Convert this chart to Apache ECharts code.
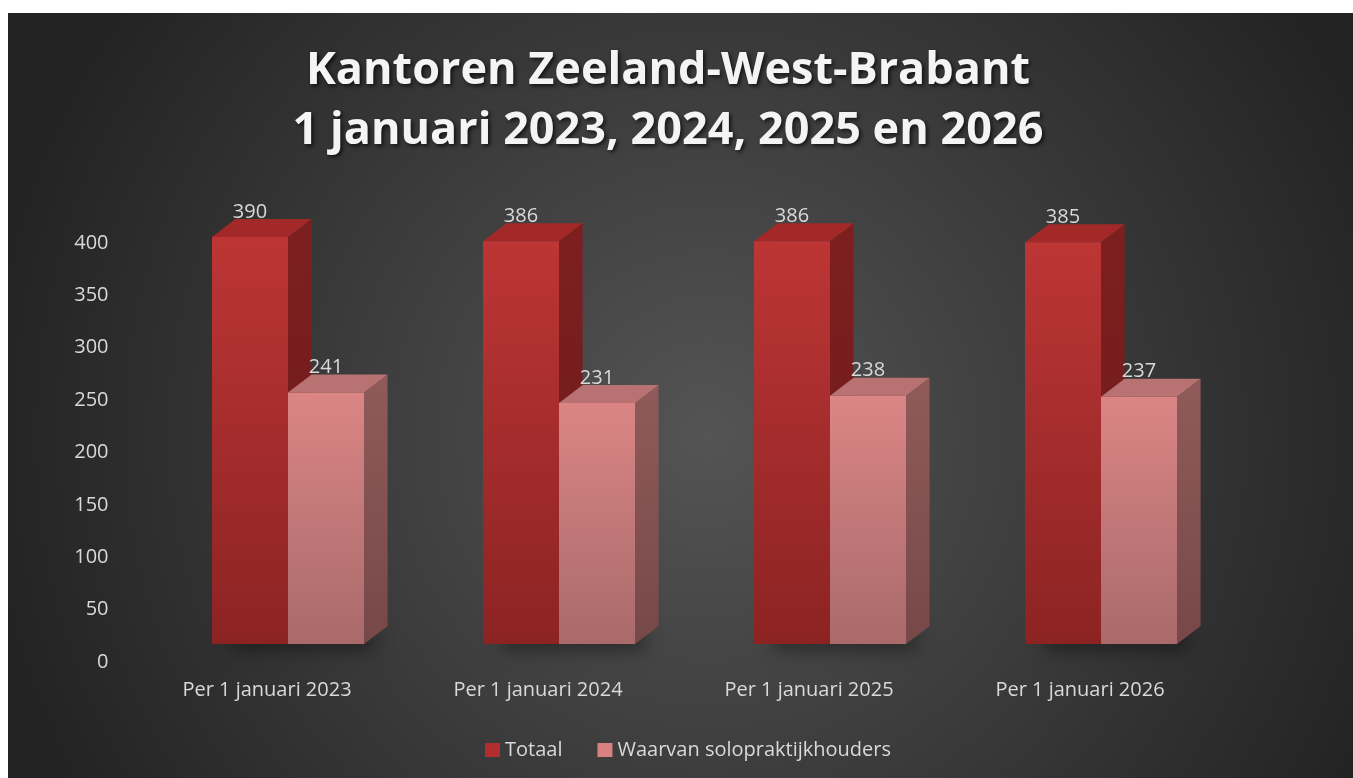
<!DOCTYPE html>
<html>
<head>
    <meta charset="utf-8">
    <title>Kantoren Zeeland-West-Brabant</title>
    <script src="https://cdn.jsdelivr.net/npm/echarts@6/dist/echarts.min.js"></script>
    <style>
        html, body { margin: 0; padding: 0; background: #ffffff; }
    </style>
</head>
<body>
    <div id="main" style="position:absolute;left:8px;top:13px;width:1345px;height:765px;"></div>
    <script type="text/javascript">
        // gegevens
        var categories = ['Per 1 januari 2023', 'Per 1 januari 2024', 'Per 1 januari 2025', 'Per 1 januari 2026'];
        var totaal = [390, 386, 386, 385];
        var solo = [241, 231, 238, 237];
        var seriesNames = ['Totaal', 'Waarvan solopraktijkhouders'];

        var labelColor = '#d9d9d9';
        var fontFam = '"Open Sans", "Noto Sans", sans-serif';

        // kleuren per serie: voorkant (boven/onder), bovenkant, zijkant
        var palette = [
            { front: ['#BD3535', '#8C2323'], top: '#A32828', side: ['#7E1F1F', '#6A1A1A'], legend: '#B22E2E' },
            { front: ['#DB8585', '#A96A6A'], top: '#B87272', side: ['#905A5A', '#774848'], legend: '#D98080' }
        ];

        // 3D blok tekenen via de assen van echarts
        function box(si) {
            return function (params, api) {
                var i = api.value(0), v = api.value(1);
                var b = api.coord([i, 0]), t = api.coord([i, v]);
                var band = api.size([1, 0])[0];
                var w = band * 0.2805, dx = band * 0.087, dy = -18;
                var x0 = si === 0 ? b[0] - w : b[0], x1 = x0 + w;
                var yb = b[1], yt = t[1];
                var c = palette[si];
                return {
                    type: 'group',
                    children: [
                        {
                            type: 'polygon',
                            shape: { points: [[x1, yt], [x1 + dx, yt + dy], [x1 + dx, yb + dy], [x1, yb]] },
                            style: { fill: new echarts.graphic.LinearGradient(0, 0, 0, 1, [
                                { offset: 0, color: c.side[0] }, { offset: 1, color: c.side[1] }]) }
                        },
                        {
                            type: 'polygon',
                            shape: { points: [[x0, yt], [x0 + dx, yt + dy], [x1 + dx, yt + dy], [x1, yt]] },
                            style: { fill: c.top }
                        },
                        {
                            type: 'rect',
                            shape: { x: x0, y: yt, width: w, height: yb - yt },
                            style: { fill: new echarts.graphic.LinearGradient(0, 0, 0, 1, [
                                { offset: 0, color: c.front[0] }, { offset: 1, color: c.front[1] }]) }
                        },
                        {
                            type: 'text',
                            style: {
                                x: x0 + w / 2, y: yt - 25, text: String(v),
                                align: 'center', verticalAlign: 'middle',
                                fill: labelColor, fontSize: 20, fontFamily: fontFam
                            }
                        }
                    ]
                };
            };
        }

        // zachte schaduw op de vloer, verborgen achter de voorkant
        function shadow(params, api) {
            var i = api.value(0);
            var b = api.coord([i, 0]);
            var band = api.size([1, 0])[0];
            var w = band * 0.2805;
            return {
                type: 'rect',
                shape: { x: b[0] - w + 6, y: b[1] - 16, width: 2 * w - 10, height: 14 },
                style: {
                    fill: 'rgba(0,0,0,0.6)',
                    shadowBlur: 18, shadowColor: 'rgba(0,0,0,0.85)',
                    shadowOffsetX: 14, shadowOffsetY: 6
                }
            };
        }

        var myChart = echarts.init(document.getElementById('main'));
        myChart.setOption({
            animation: false,
            backgroundColor: {
                type: 'radial', x: 0.52, y: 0.55, r: 0.95,
                colorStops: [{ offset: 0, color: '#545454' }, { offset: 1, color: '#232323' }]
            },
            title: {
                text: 'Kantoren Zeeland-West-Brabant\n1 januari 2023, 2024, 2025 en 2026',
                left: 655, top: 23, textAlign: 'center',
                textStyle: {
                    color: '#f4f4f4', fontSize: 45, fontWeight: 'bold', fontFamily: fontFam,
                    lineHeight: 60,
                    textShadowColor: 'rgba(0,0,0,0.7)', textShadowBlur: 4,
                    textShadowOffsetX: 2, textShadowOffsetY: 2
                }
            },
            legend: {
                data: seriesNames,
                left: 472, top: 722,
                icon: 'rect', itemWidth: 15, itemHeight: 14, itemGap: 35,
                textStyle: { color: labelColor, fontSize: 20, fontFamily: fontFam }
            },
            grid: [
                { left: 123.5, width: 1084, top: 230, bottom: 116 },
                { left: 144.5, width: 1084, top: 213.6, bottom: 134 }
            ],
            xAxis: [
                {
                    type: 'category', gridIndex: 0, data: categories,
                    axisLine: { show: false }, axisTick: { show: false },
                    axisLabel: { color: labelColor, fontSize: 20, fontFamily: fontFam, margin: 18 }
                },
                { type: 'category', gridIndex: 1, data: categories, show: false }
            ],
            yAxis: [
                {
                    type: 'value', gridIndex: 0, min: 0, max: 400, interval: 50,
                    splitLine: { show: false }, axisLine: { show: false }, axisTick: { show: false },
                    axisLabel: { color: labelColor, fontSize: 20, fontFamily: fontFam, margin: 23 }
                },
                { type: 'value', gridIndex: 1, min: 0, max: 400, show: false }
            ],
            series: [
                {
                    type: 'custom', name: 'schaduw', xAxisIndex: 1, yAxisIndex: 1, z: 1,
                    renderItem: shadow, silent: true,
                    data: categories.map(function (c, i) { return [i, 0]; })
                },
                {
                    type: 'custom', name: seriesNames[0], xAxisIndex: 1, yAxisIndex: 1, z: 2,
                    itemStyle: { color: palette[0].legend },
                    renderItem: box(0),
                    data: totaal.map(function (v, i) { return [i, v]; })
                },
                {
                    type: 'custom', name: seriesNames[1], xAxisIndex: 1, yAxisIndex: 1, z: 3,
                    itemStyle: { color: palette[1].legend },
                    renderItem: box(1),
                    data: solo.map(function (v, i) { return [i, v]; })
                }
            ]
        });
    </script>
</body>
</html>
